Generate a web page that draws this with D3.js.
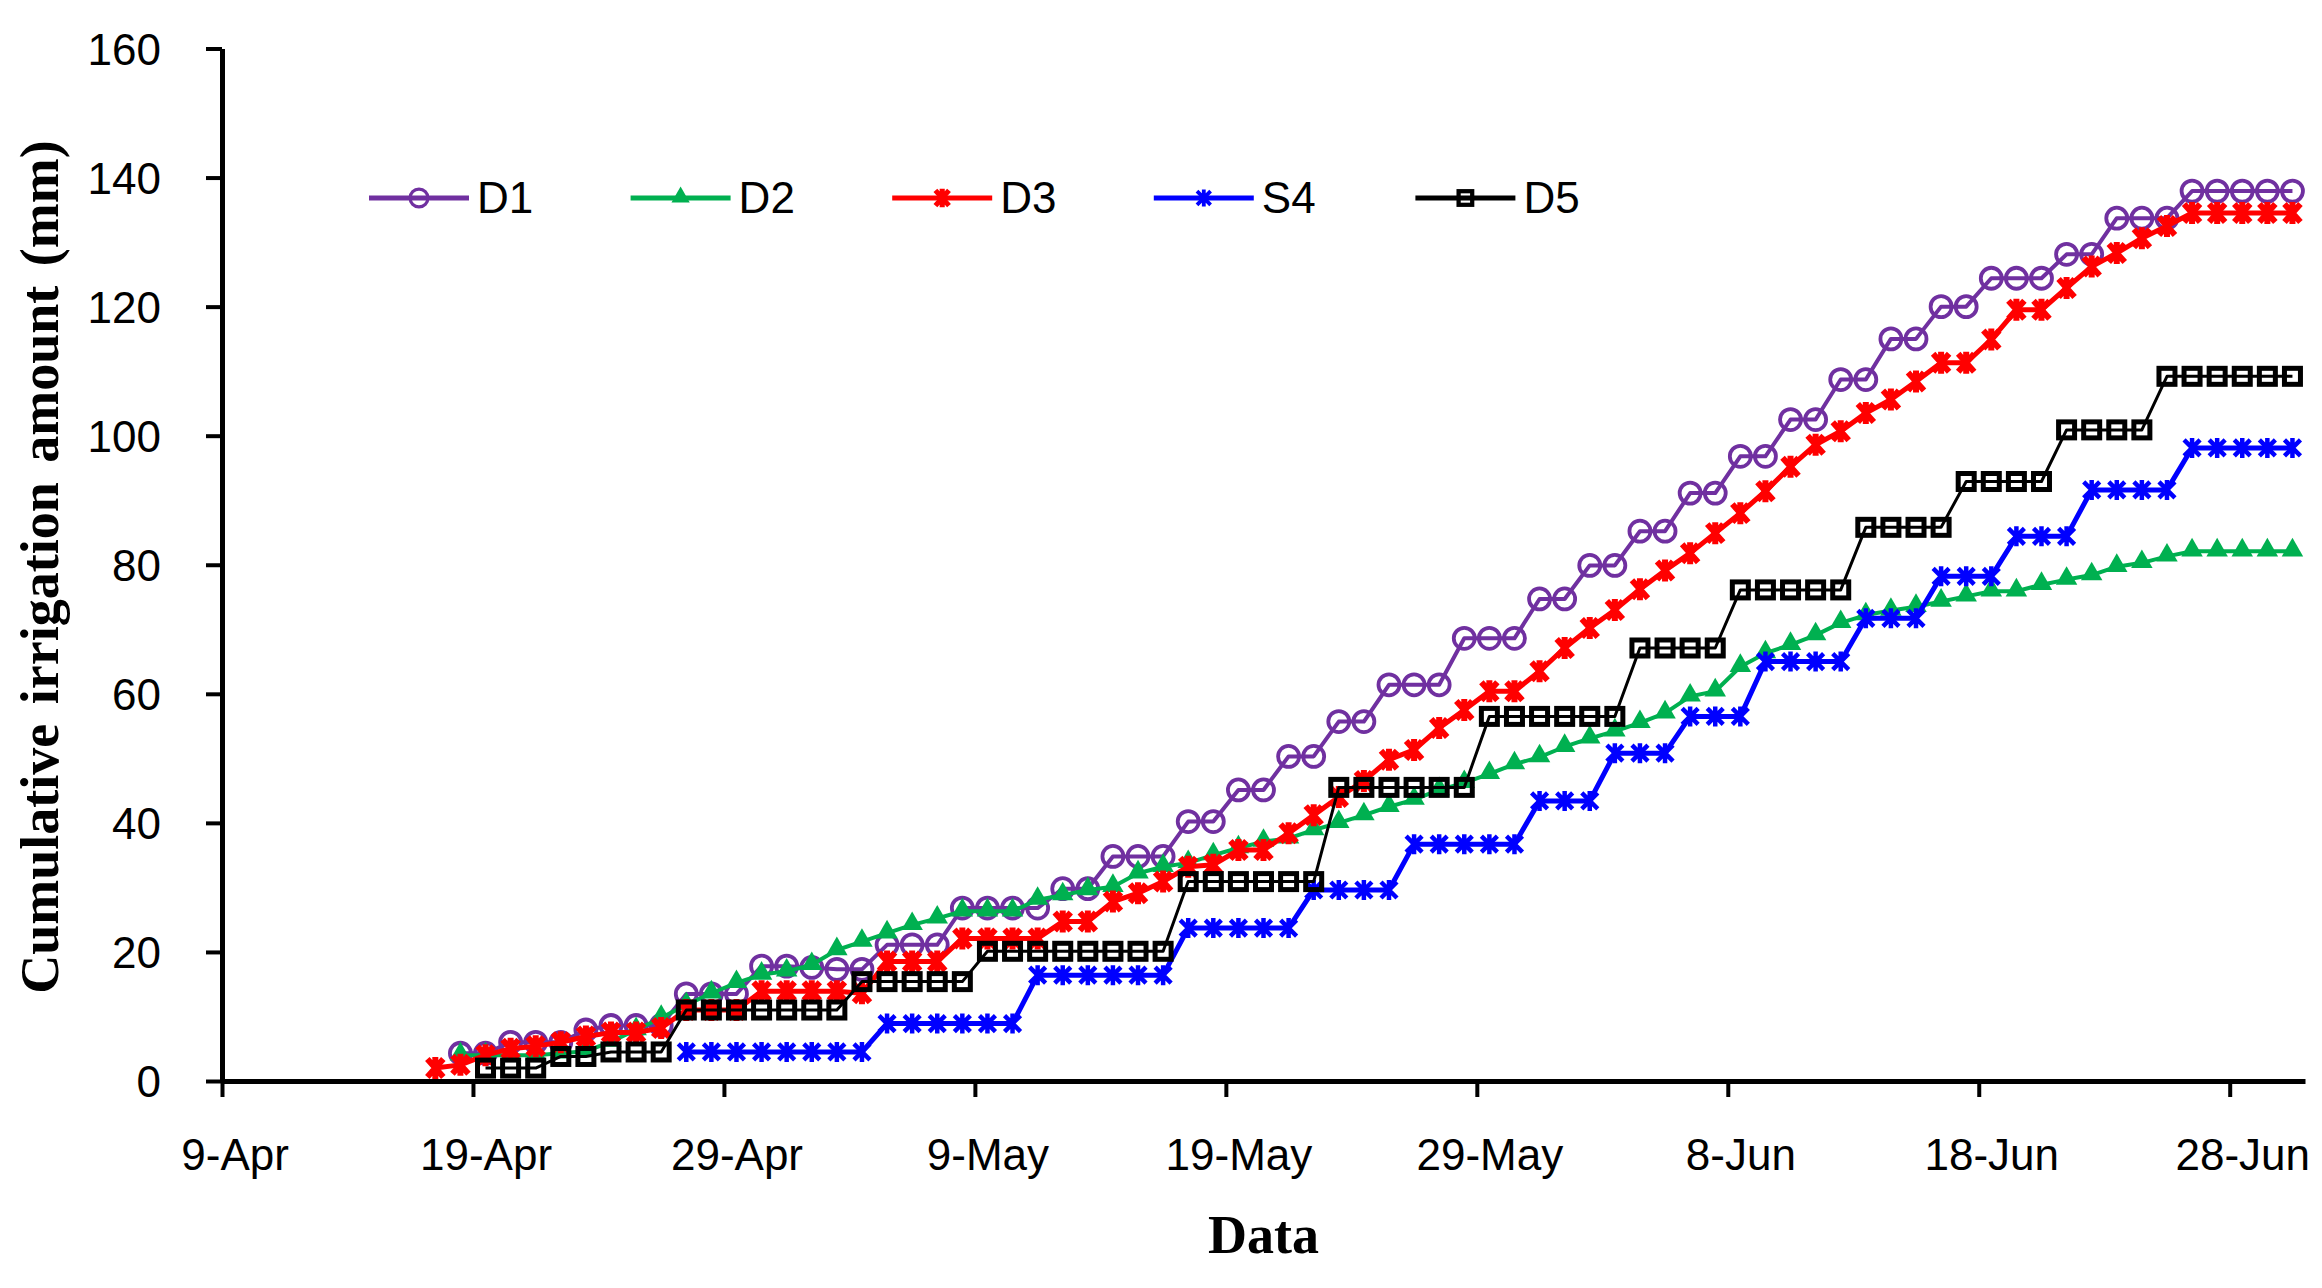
<!DOCTYPE html>
<html>
<head>
<meta charset="utf-8">
<script src="https://cdn.jsdelivr.net/npm/d3@7"></script>
<style>
  body { margin: 0; background: #fff; }
  svg text { font-family: "Liberation Sans", Arial, sans-serif; fill: #000; }
</style>
</head>
<body>
<svg id="chart" width="2322" height="1288"></svg>
<script>
// one value per day, 17-Apr .. 30-Jun (null = no irrigation record yet)
const firstDay = '2019-04-17';
const lastDay  = '2019-06-30';

const tickDates = ['2019-04-09', '2019-04-19', '2019-04-29', '2019-05-09', '2019-05-19',
                   '2019-05-29', '2019-06-08', '2019-06-18', '2019-06-28'];
const yTicks = [0, 20, 40, 60, 80, 100, 120, 140, 160];

const seriesNames = ['D1', 'D2', 'D3', 'S4', 'D5'];

const d1 = [null,
  4.3, 4.3, 6.0, 6.0, 6.0, 7.9, 8.6, 8.6, 8.6, 13.5, 13.5, 13.5, 17.8, 17.8,
  17.6, 17.3, 17.3, 21.1, 21.1, 21.1, 26.8, 26.8, 26.8, 26.8, 29.8, 29.8, 34.8, 34.8,
  34.8, 40.2, 40.2, 45.1, 45.1, 50.3, 50.3, 55.7, 55.7, 61.4, 61.4, 61.4, 68.6, 68.6,
  68.6, 74.7, 74.7, 79.9, 79.9, 85.2, 85.2, 91.1, 91.1, 96.8, 96.8, 102.5, 102.5, 108.7,
  108.7, 115.0, 115.0, 120.0, 120.0, 124.4, 124.4, 124.4, 128.1, 128.1, 133.7, 133.7, 133.7,
  137.9, 137.9, 137.9, 137.9, 137.9];

const d2 = [null,
  4.0, 4.0, 4.0, 4.0, 4.3, 4.6, 6.1, 7.9, 9.8, 11.8, 13.6, 15.2, 16.5, 17.0,
  18.0, 20.3, 21.6, 22.9, 24.2, 25.2, 26.3, 26.3, 26.3, 28.1, 28.8, 29.6, 30.1, 32.2,
  33.2, 33.8, 35.0, 36.1, 37.1, 37.6, 38.9, 40.0, 41.2, 42.5, 43.6, 45.1, 46.2, 47.6,
  49.1, 50.2, 51.8, 53.1, 54.2, 55.5, 57.0, 59.6, 60.4, 64.2, 66.3, 67.6, 69.1, 71.0,
  72.2, 72.9, 73.5, 74.3, 75.1, 75.9, 75.9, 76.9, 77.7, 78.4, 79.7, 80.3, 81.3,
  82.1, 82.1, 82.1, 82.1, 82.1];

const d3s = [2.0,
  2.5, 4.0, 5.0, 5.4, 6.0, 6.9, 7.5, 7.5, 8.2, 11.0, 11.0, 11.0, 13.9, 13.9,
  13.9, 13.9, 13.6, 18.5, 18.5, 18.5, 22.1, 22.1, 22.1, 22.1, 24.7, 24.7, 27.8, 29.1,
  30.9, 33.2, 33.5, 35.8, 35.8, 38.4, 41.2, 44.0, 46.5, 49.8, 51.3, 54.7, 57.5, 60.4,
  60.4, 63.5, 67.1, 70.2, 73.0, 76.2, 79.1, 81.8, 84.9, 88.0, 91.4, 95.2, 98.6, 100.7,
  103.5, 105.6, 108.4, 111.3, 111.3, 114.9, 119.5, 119.5, 122.9, 126.2, 128.3, 130.6, 132.5,
  134.5, 134.5, 134.5, 134.5, 134.5];

const s4 = [null, null, null, null, null, null, null, null, null, null,
  4.5, 4.5, 4.5, 4.5, 4.5, 4.5, 4.5, 4.5,
  8.9, 8.9, 8.9, 8.9, 8.9, 8.9,
  16.4, 16.4, 16.4, 16.4, 16.4, 16.4,
  23.7, 23.7, 23.7, 23.7, 23.7,
  29.6, 29.6, 29.6, 29.6,
  36.7, 36.7, 36.7, 36.7, 36.7,
  43.4, 43.4, 43.4,
  50.8, 50.8, 50.8,
  56.5, 56.5, 56.5,
  65.0, 65.0, 65.0, 65.0,
  71.7, 71.7, 71.7,
  78.2, 78.2, 78.2,
  84.4, 84.4, 84.4,
  91.6, 91.6, 91.6, 91.6,
  98.1, 98.1, 98.1, 98.1, 98.1];

const d5 = [null, null,
  2.0, 2.0, 2.0,
  3.8, 3.8,
  4.5, 4.5, 4.5,
  11.0, 11.0, 11.0, 11.0, 11.0, 11.0, 11.0,
  15.4, 15.4, 15.4, 15.4, 15.4,
  20.1, 20.1, 20.1, 20.1, 20.1, 20.1, 20.1, 20.1,
  30.9, 30.9, 30.9, 30.9, 30.9, 30.9,
  45.5, 45.5, 45.5, 45.5, 45.5, 45.5,
  56.5, 56.5, 56.5, 56.5, 56.5, 56.5,
  67.1, 67.1, 67.1, 67.1,
  76.1, 76.1, 76.1, 76.1, 76.1,
  85.8, 85.8, 85.8, 85.8,
  92.9, 92.9, 92.9, 92.9,
  100.9, 100.9, 100.9, 100.9,
  109.2, 109.2, 109.2, 109.2, 109.2, 109.2];

const seriesValues = [d1, d2, d3s, s4, d5];
const colors = ['#7030A0', '#00B050', '#FF0000', '#0000FF', '#000000'];
const lineWidths = [4, 4, 5, 5, 3];
const markerKinds = ['circle', 'triangle', 'star', 'cross', 'square'];

const parse = d3.utcParse('%Y-%m-%d');
const days = d3.utcDay.range(parse(firstDay), d3.utcDay.offset(parse(lastDay), 1));

const svg = d3.select('#chart');
const plotLeft = 222, plotRight = 2305, plotTop = 48.5, plotBottom = 1081;

const x = d3.scaleUtc()
  .domain([parse('2019-04-09'), parse('2019-07-01')])
  .range([plotLeft, plotRight]);
const y = d3.scaleLinear().domain([0, 160]).range([plotBottom, plotTop]);

// points sit in the middle of their day slot
const px = (d) => x(d3.utcHour.offset(d, 12));
const halfDay = px(parse('2019-04-09')) - x(parse('2019-04-09'));

function drawMarker(g, kind, color) {
  if (kind === 'circle') {
    g.append('circle').attr('r', 10.5).attr('fill', 'none').attr('stroke', color).attr('stroke-width', 3.8);
  } else if (kind === 'triangle') {
    g.append('path').attr('d', d3.symbol(d3.symbolTriangle, 200)()).attr('fill', color)
      .attr('transform', 'translate(0,-1)');
  } else if (kind === 'star') {
    g.append('path').attr('d', 'M-8,-9L8,9M-8,9L8,-9M0,-11L0,11')
      .attr('stroke', color).attr('stroke-width', 6).attr('fill', 'none');
  } else if (kind === 'cross') {
    g.append('path').attr('d', 'M-8,-8L8,8M-8,8L8,-8M0,-10L0,10')
      .attr('stroke', color).attr('stroke-width', 4.5).attr('fill', 'none');
  } else {
    g.append('rect').attr('x', -8).attr('y', -8).attr('width', 16).attr('height', 16)
      .attr('fill', 'none').attr('stroke', color).attr('stroke-width', 5);
  }
}

// series
seriesNames.forEach((name, i) => {
  let pts = days.map((d, k) => ({ d: d, v: seriesValues[i][k] })).filter((o) => o.v != null);
  let g = svg.append('g').attr('class', 'series ' + name);

  g.append('path')
    .datum(pts)
    .attr('fill', 'none')
    .attr('stroke', colors[i])
    .attr('stroke-width', lineWidths[i])
    .attr('stroke-linejoin', 'round')
    .attr('d', d3.line().x((o) => px(o.d)).y((o) => y(o.v)));

  g.selectAll('g.mark')
    .data(pts)
    .join('g')
    .attr('class', 'mark')
    .attr('transform', (o) => 'translate(' + px(o.d) + ',' + y(o.v) + ')')
    .each(function () { drawMarker(d3.select(this), markerKinds[i], colors[i]); });
});

// axes
let yAxis = svg.append('g')
  .attr('transform', 'translate(' + plotLeft + ',0)')
  .call(d3.axisLeft(y).tickValues(yTicks).tickSize(16).tickSizeOuter(0).tickPadding(45));

let xAxis = svg.append('g')
  .attr('transform', 'translate(0,' + plotBottom + ')')
  .call(d3.axisBottom(x).tickValues(tickDates.map(parse)).tickSize(16).tickSizeOuter(0)
    .tickFormat(d3.utcFormat('%-d-%b')));

[yAxis, xAxis].forEach((a) => {
  a.select('.domain').attr('stroke', '#000').attr('stroke-width', 5);
  a.selectAll('.tick line').attr('stroke', '#000').attr('stroke-width', 4);
  a.selectAll('.tick text').style('font-size', '44px').attr('fill', '#000');
});
yAxis.selectAll('.tick text').attr('dy', '0.36em');
xAxis.selectAll('.tick text').attr('x', halfDay).attr('y', 89).attr('dy', 0);

// axis titles
svg.append('text')
  .attr('transform', 'translate(58,567) rotate(-90)')
  .attr('text-anchor', 'middle')
  .style('font-family', '"Liberation Serif", "Times New Roman", serif')
  .style('font-weight', 'bold')
  .style('font-size', '54px')
  .style('word-spacing', '6px')
  .text('Cumulative irrigation amount (mm)');

svg.append('text')
  .attr('x', (plotLeft + plotRight) / 2)
  .attr('y', 1253)
  .attr('text-anchor', 'middle')
  .style('font-family', '"Liberation Serif", "Times New Roman", serif')
  .style('font-weight', 'bold')
  .style('font-size', '54px')
  .text('Data');

// legend
let legend = svg.append('g').attr('class', 'legend').attr('transform', 'translate(369,198)');
seriesNames.forEach((name, i) => {
  let item = legend.append('g').attr('transform', 'translate(' + (i * 261.6) + ',0)');
  item.append('line').attr('x1', 0).attr('x2', 100).attr('y1', 0).attr('y2', 0)
    .attr('stroke', colors[i]).attr('stroke-width', 5);
  let m = item.append('g').attr('transform', 'translate(50,0) scale(0.85)');
  drawMarker(m, markerKinds[i], colors[i]);
  item.append('text').attr('x', 108).attr('y', 15).style('font-size', '44px').text(name);
});
</script>
</body>
</html>
